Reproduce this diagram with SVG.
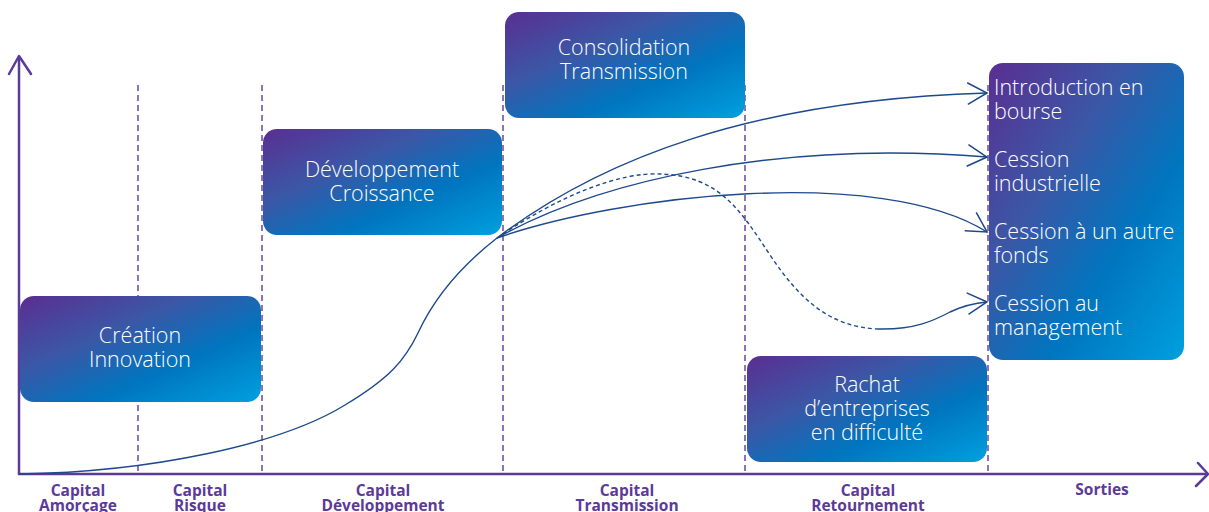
<svg xmlns="http://www.w3.org/2000/svg" width="1209" height="512" viewBox="0 0 1209 512">
  <style>
    .axis { fill: none; stroke: #5b3a9a; stroke-width: 2.5; stroke-linecap: round; stroke-linejoin: round; }
    .sep { fill: none; stroke: #5b3a9a; stroke-width: 1.4; stroke-dasharray: 6 4; }
    .box { fill: url(#grad); }
    .lbl { font-family: "Open Sans", "Liberation Sans", sans-serif; font-size: 21.5px; font-weight: 300; fill: #ffffff; }
    .ax { font-family: "Open Sans", "Liberation Sans", sans-serif; font-size: 15.5px; font-weight: 700; fill: #5c3a98; text-anchor: middle; }
    .curve { fill: none; stroke: #1d4a8c; stroke-width: 1.4; }
    .dash { fill: none; stroke: #1d4a8c; stroke-width: 1.4; stroke-dasharray: 4 3; }
  </style>
  <defs>
    <linearGradient id="grad" x1="0" y1="0" x2="1" y2="1">
      <stop offset="0" stop-color="#5a2e91"/>
      <stop offset="0.35" stop-color="#3b57a6"/>
      <stop offset="0.65" stop-color="#0075bf"/>
      <stop offset="1" stop-color="#00a0de"/>
    </linearGradient>
    <marker id="arr" markerUnits="userSpaceOnUse" markerWidth="24" markerHeight="26" viewBox="-20 -12 22 24" refX="0" refY="0" orient="auto">
      <path d="M-18,-10 L0,0 L-18,10" fill="none" stroke="#1d4a8c" stroke-width="1.4"/>
    </marker>
  </defs>

  <g id="axes">
    <path class="axis" d="M19,474 L19,57"/>
    <path class="axis" d="M9,74 L19,56 L31,74"/>
    <path class="axis" d="M19,474 L1207,474"/>
    <path class="axis" d="M1198,463 L1208,474 L1196,486"/>
  </g>

  <g id="separators">
    <line class="sep" x1="138" y1="85" x2="138" y2="474"/>
    <line class="sep" x1="262" y1="85" x2="262" y2="474"/>
    <line class="sep" x1="503" y1="85" x2="503" y2="474"/>
    <line class="sep" x1="745" y1="85" x2="745" y2="474"/>
    <line class="sep" x1="988" y1="85" x2="988" y2="474"/>
  </g>

  <g id="node-creation">
    <rect class="box" x="20" y="296" width="241" height="106" rx="14"/>
    <text class="lbl" x="140" y="343" text-anchor="middle">Création</text>
    <text class="lbl" x="140" y="367" text-anchor="middle">Innovation</text>
  </g>
  <g id="node-developpement">
    <rect class="box" x="263" y="129" width="239" height="106" rx="14"/>
    <text class="lbl" x="382" y="177" text-anchor="middle">Développement</text>
    <text class="lbl" x="382" y="201" text-anchor="middle">Croissance</text>
  </g>
  <g id="node-consolidation">
    <rect class="box" x="505" y="12" width="240" height="106" rx="14"/>
    <text class="lbl" x="624" y="55" text-anchor="middle">Consolidation</text>
    <text class="lbl" x="624" y="79" text-anchor="middle">Transmission</text>
  </g>
  <g id="node-rachat">
    <rect class="box" x="747" y="356" width="240" height="106" rx="14"/>
    <text class="lbl" x="867" y="392" text-anchor="middle">Rachat</text>
    <text class="lbl" x="867" y="416" text-anchor="middle">d’entreprises</text>
    <text class="lbl" x="867" y="440" text-anchor="middle">en difficulté</text>
  </g>
  <g id="node-sorties">
    <rect class="box" x="989" y="63" width="195" height="297" rx="14"/>
    <text class="lbl" x="994" y="95">Introduction en</text>
    <text class="lbl" x="994" y="119">bourse</text>
    <text class="lbl" x="994" y="167">Cession</text>
    <text class="lbl" x="994" y="191">industrielle</text>
    <text class="lbl" x="994" y="239">Cession à un autre</text>
    <text class="lbl" x="994" y="263">fonds</text>
    <text class="lbl" x="994" y="311">Cession au</text>
    <text class="lbl" x="994" y="335">management</text>
  </g>

  <g id="connectors">
    <path class="curve" d="M19,474 C150,472 280,445 345,405 C390,378 405,360 418,333 C435,296 465,263 497,238"/>
    <path class="curve" marker-end="url(#arr)" d="M497,238 C600,160 750,100 987,93"/>
    <path class="curve" marker-end="url(#arr)" d="M497,238 C600,180 780,140 987,157"/>
    <path class="curve" marker-end="url(#arr)" d="M497,238 C620,195 880,165 987,232"/>
    <path class="dash" d="M497,238 C560,195 620,172 660,174 C720,176 740,210 770,255 C800,300 830,327 878,329"/>
    <path class="curve" marker-end="url(#arr)" d="M878,329 C915,330 935,320 950,312 C965,305 975,303 987,302"/>
  </g>

  <g id="axis-labels">
    <text class="ax" x="78" y="496">Capital</text>
    <text class="ax" x="78" y="511">Amorçage</text>
    <text class="ax" x="200" y="496">Capital</text>
    <text class="ax" x="200" y="511">Risque</text>
    <text class="ax" x="383" y="496">Capital</text>
    <text class="ax" x="383" y="511">Développement</text>
    <text class="ax" x="627" y="496">Capital</text>
    <text class="ax" x="627" y="511">Transmission</text>
    <text class="ax" x="868" y="496">Capital</text>
    <text class="ax" x="868" y="511">Retournement</text>
    <text class="ax" x="1102" y="495">Sorties</text>
  </g>
</svg>
